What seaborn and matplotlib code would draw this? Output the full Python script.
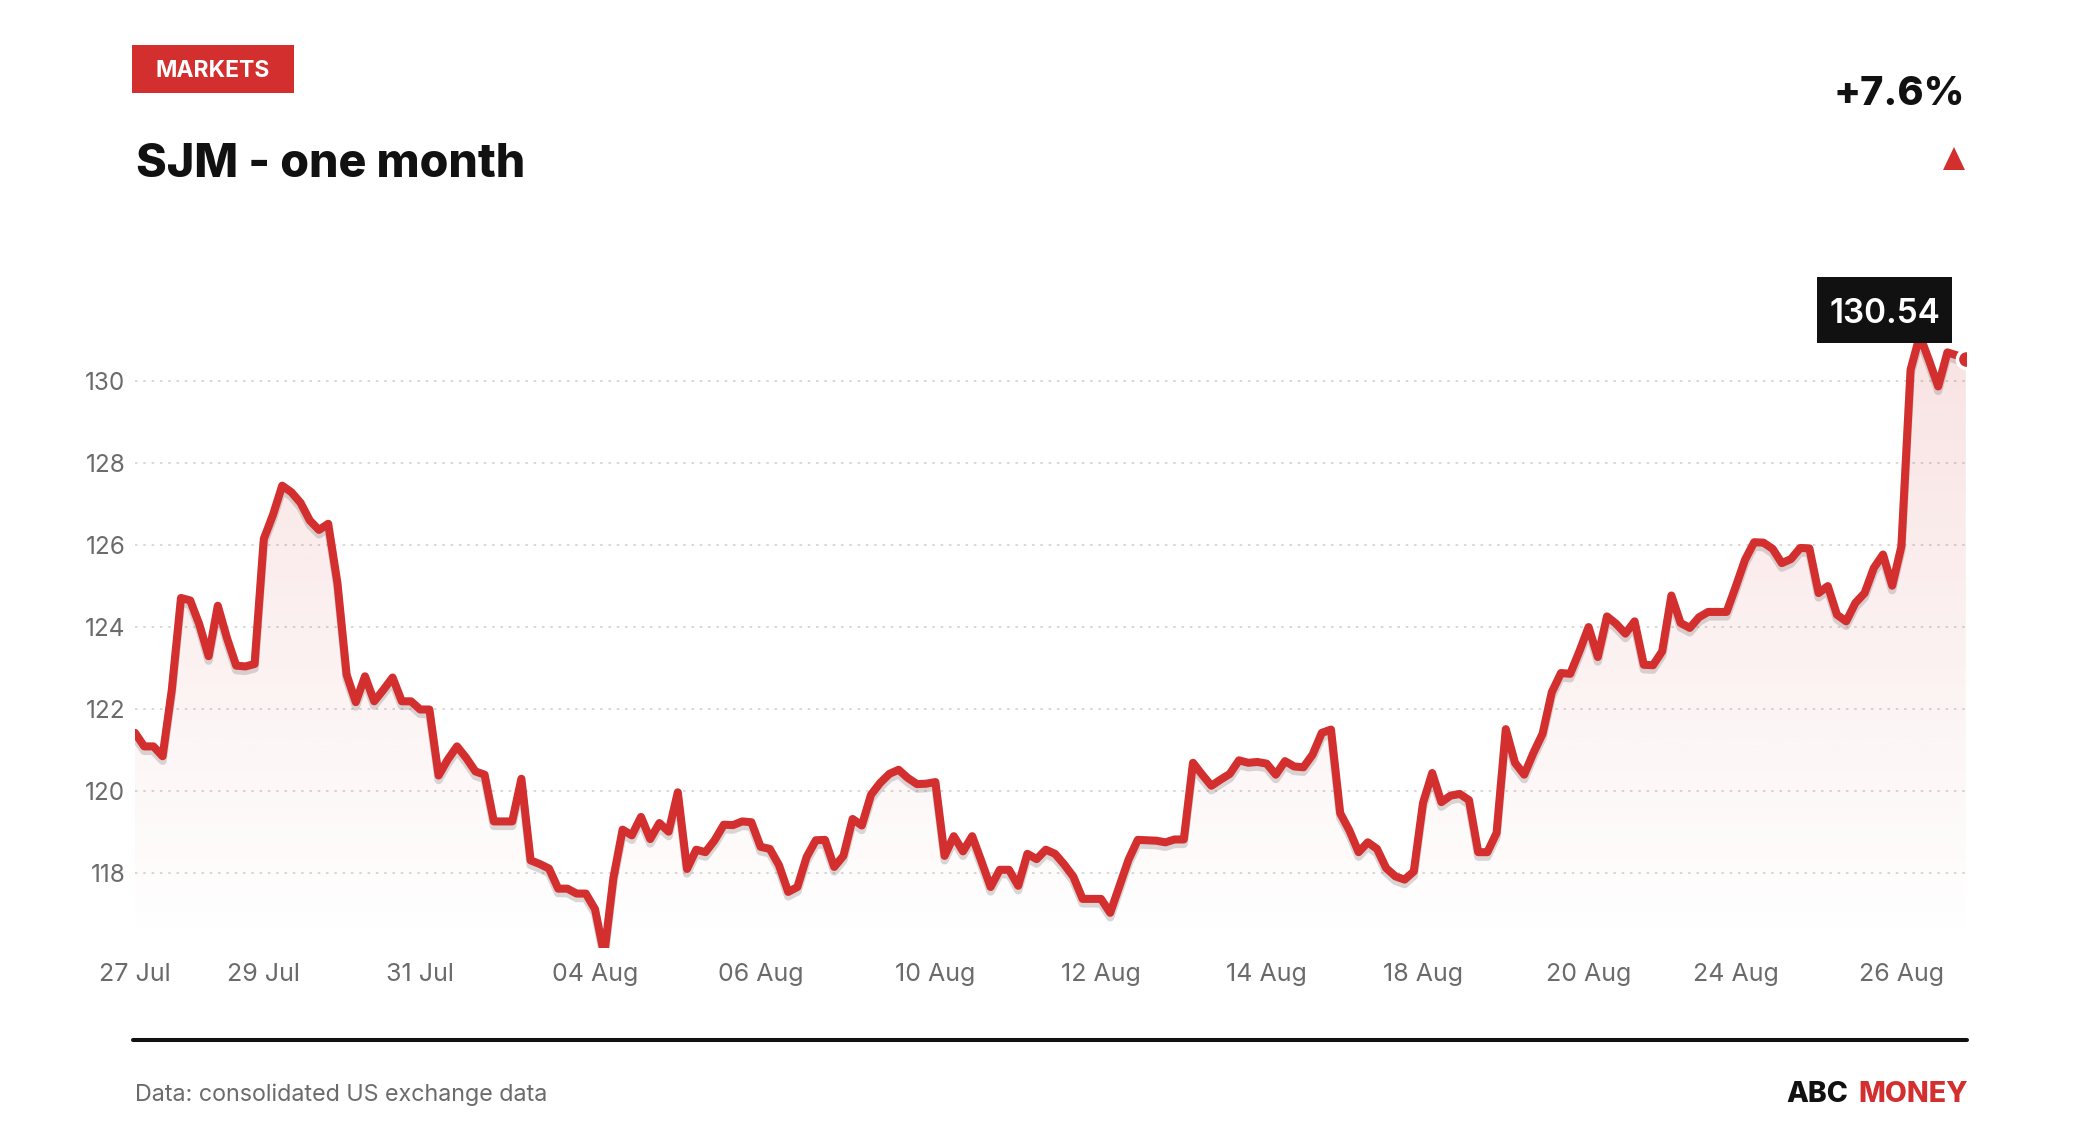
import numpy as np
import pandas as pd
import matplotlib
matplotlib.use("Agg")
import matplotlib.pyplot as plt
import matplotlib.transforms as mtransforms
from matplotlib.patches import Rectangle, Polygon
from matplotlib.lines import Line2D
import seaborn as sns

# ---------------- data ----------------
prices = [
    121.41, 121.08, 121.08, 120.84, 122.46, 124.70, 124.64, 124.05, 123.28, 124.51,
    123.72, 123.05, 123.03, 123.09, 126.14, 126.73, 127.44, 127.28, 127.02, 126.59,
    126.36, 126.51, 125.07, 122.83, 122.16, 122.79, 122.18, 122.46, 122.76, 122.18,
    122.18, 121.98, 121.98, 120.37, 120.76, 121.08, 120.80, 120.47, 120.39, 119.25,
    119.25, 119.25, 120.29, 118.30, 118.21, 118.10, 117.61, 117.61, 117.49, 117.49,
    117.11, 116.00, 117.87, 119.05, 118.91, 119.36, 118.82, 119.21, 119.00, 119.96,
    118.09, 118.56, 118.50, 118.79, 119.17, 119.16, 119.25, 119.23, 118.63, 118.58,
    118.18, 117.53, 117.65, 118.38, 118.79, 118.80, 118.14, 118.41, 119.31, 119.15,
    119.90, 120.19, 120.41, 120.51, 120.31, 120.16, 120.17, 120.21, 118.41, 118.89,
    118.52, 118.89, 118.28, 117.65, 118.07, 118.07, 117.68, 118.46, 118.33, 118.56,
    118.46, 118.20, 117.90, 117.36, 117.36, 117.36, 117.02, 117.67, 118.32, 118.80,
    118.79, 118.78, 118.74, 118.81, 118.81, 120.68, 120.39, 120.12, 120.27, 120.41,
    120.74, 120.68, 120.70, 120.66, 120.39, 120.72, 120.59, 120.57, 120.88, 121.41,
    121.49, 119.45, 119.03, 118.50, 118.74, 118.58, 118.11, 117.91, 117.83, 118.03,
    119.70, 120.43, 119.72, 119.88, 119.92, 119.77, 118.50, 118.50, 118.97, 121.50,
    120.68, 120.39, 120.92, 121.39, 122.40, 122.87, 122.85, 123.40, 123.99, 123.26,
    124.25, 124.07, 123.83, 124.13, 123.07, 123.06, 123.40, 124.76, 124.09, 123.97,
    124.23, 124.36, 124.36, 124.36, 124.98, 125.63, 126.06, 126.05, 125.90, 125.55,
    125.65, 125.92, 125.91, 124.82, 124.99, 124.29, 124.13, 124.58, 124.82, 125.43,
    125.76, 125.00, 125.96, 130.27, 131.10, 130.50, 129.86, 130.69, 130.62, 130.54,
]
tick_index = [0, 14, 31, 50, 68, 87, 105, 123, 140, 158, 174, 192]
tick_labels = ["27 Jul", "29 Jul", "31 Jul", "04 Aug", "06 Aug", "10 Aug",
               "12 Aug", "14 Aug", "18 Aug", "20 Aug", "24 Aug", "26 Aug"]
y_ticks = [118, 120, 122, 124, 126, 128, 130]
last_label = "130.54"
change_label = "+7.6%"
title = "SJM - one month"
section = "MARKETS"
source = "Data: consolidated US exchange data"

df = pd.DataFrame({"i": np.arange(len(prices)), "price": prices})

# ---------------- style ----------------
sns.set_theme(style="white")
plt.rcParams["font.family"] = ["Inter", "DejaVu Sans"]

RED = "#d32f2f"
DARK = "#111111"
GRAY = "#6b6b6b"

W, H = 2080, 1140
fig = plt.figure(figsize=(W / 100, H / 100), dpi=100)
fig.patch.set_facecolor("white")

def fx(px):
    return px / W

def fy(py):
    return 1 - py / H

y_lo, y_hi = 116.16, 131.4
ax_left_px, ax_right_px = 135, 1965.8
ax_bot_px, ax_top_px = 948.1, 323.3
ax = fig.add_axes([fx(ax_left_px), fy(ax_bot_px),
                   (ax_right_px - ax_left_px) / W, (ax_bot_px - ax_top_px) / H])
ax.set_facecolor("none")

x_max = len(prices) - 1

# gradient fill under the line
poly = ax.fill_between(df["i"], df["price"], y_lo, facecolor="none", edgecolor="none")
n = 256
grad = np.linspace(0, 1, n).reshape(-1, 1)
rgba = np.zeros((n, 1, 4))
rgba[..., :3] = matplotlib.colors.to_rgb(RED)
rgba[..., 3] = 0.14 * grad[:, :]
im = ax.imshow(rgba, extent=[0, x_max, y_lo, y_hi], origin="lower",
               aspect="auto", zorder=1, interpolation="bilinear")
im.set_clip_path(poly.get_paths()[0], transform=ax.transData)

# shadow line
shadow_tr = mtransforms.offset_copy(ax.transData, fig=fig, x=0, y=-4.5, units="dots")
sns.lineplot(data=df, x="i", y="price", ax=ax, color=(0.5, 0.45, 0.45), alpha=0.28,
             linewidth=6, transform=shadow_tr, zorder=2,
             solid_joinstyle="round", solid_capstyle="round")
# main line
sns.lineplot(data=df, x="i", y="price", ax=ax, color=RED, linewidth=5.8, zorder=3,
             solid_joinstyle="round", solid_capstyle="round")
# last point marker
sns.scatterplot(x=[df["i"].iloc[-1]], y=[df["price"].iloc[-1]], ax=ax, s=170,
                color=RED, edgecolor="white", linewidth=2.5, zorder=4)

ax.set_xlim(0, x_max)
ax.set_ylim(y_lo, y_hi)
ax.set_xticks(tick_index)
ax.set_xticklabels(tick_labels)
ax.set_yticks(y_ticks)
ax.set_yticklabels([str(v) for v in y_ticks])
ax.set_xlabel("")
ax.set_ylabel("")
for s in ax.spines.values():
    s.set_visible(False)
ax.tick_params(axis="both", length=0, labelsize=17.5, labelcolor=GRAY)
ax.tick_params(axis="x", labelsize=18, pad=11)
ax.tick_params(axis="y", pad=7)
ax.yaxis.grid(True, color="#d6d6d6", linewidth=1.3, linestyle=(0, (1.4, 3.2)))
ax.xaxis.grid(False)
ax.set_axisbelow(True)

# ---------------- header ----------------
fig.add_artist(Rectangle((fx(132), fy(93)), (294 - 132) / W, (93 - 45) / H,
                         transform=fig.transFigure, facecolor=RED, edgecolor="none"))
fig.text(fx(213), fy(77.3), section, color="white", fontsize=16.5, fontweight="bold",
         ha="center", va="baseline")
fig.text(fx(136), fy(177.3), title, color=DARK, fontsize=33.5, fontweight=800,
         ha="left", va="baseline")
fig.text(fx(1965), fy(105), change_label, color=DARK, fontsize=28.5, fontweight=800,
         ha="right", va="baseline")
fig.add_artist(Polygon([(fx(1943), fy(170)), (fx(1965), fy(170)), (fx(1954), fy(147))],
                       closed=True, transform=fig.transFigure, facecolor=RED,
                       edgecolor="none"))

# last value label box
fig.add_artist(Rectangle((fx(1817), fy(343)), (1952 - 1817) / W, (343 - 277) / H,
                         transform=fig.transFigure, facecolor=DARK, edgecolor="none",
                         zorder=10))
fig.text(fx(1884.5), fy(322.7), last_label, color="white", fontsize=24,
         fontweight="semibold", ha="center", va="baseline", zorder=11)

# ---------------- footer ----------------
fig.add_artist(Line2D([fx(133), fx(1967)], [fy(1040), fy(1040)],
                      transform=fig.transFigure, color=DARK, linewidth=2.9))
fig.text(fx(135), fy(1101), source, color=GRAY, fontsize=16.8, ha="left", va="baseline")
fig.text(fx(1786), fy(1101.7), "ABC", color=DARK, fontsize=20.5, fontweight=800,
         ha="left", va="baseline")
fig.text(fx(1858.3), fy(1101.7), "MONEY", color=RED, fontsize=20.5, fontweight=800,
         ha="left", va="baseline")

fig.savefig("out.png", dpi=100, facecolor="white")
